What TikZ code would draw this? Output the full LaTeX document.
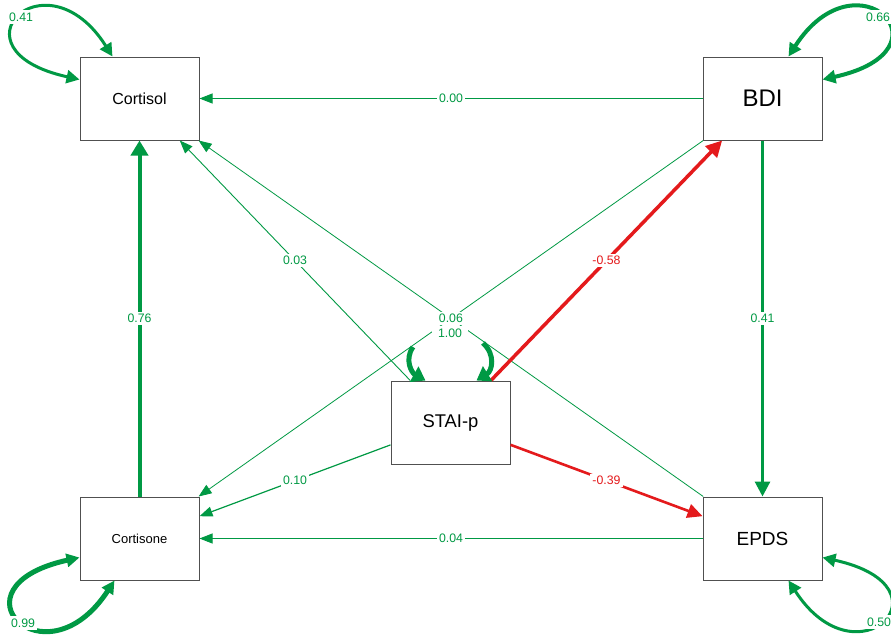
\documentclass[tikz,border=0pt]{standalone}
\usepackage{fontspec}
\setmainfont{Liberation Sans}
\usetikzlibrary{arrows.meta,calc}
\definecolor{pg}{RGB}{0,153,68}
\definecolor{nr}{RGB}{228,26,28}
\definecolor{bx}{RGB}{80,80,80}
\begin{document}
\begin{tikzpicture}[x=1pt,y=-1pt,
  var/.style={draw=bx, line width=1pt, minimum width=119pt, minimum height=83pt, inner sep=0pt},
  lbl/.style={fill=white, inner sep=2.5pt, font=\fontsize{12.3}{13}\selectfont, text=pg},
  rlbl/.style={lbl, text=nr},
  thinE/.style={pg, line width=0.9pt, -{Triangle[length=13pt,width=10pt]}},
  loopE/.style={pg, {Triangle[length=13pt,width=13pt]}-{Triangle[length=13pt,width=13pt]}},
  stubE/.style={pg, line width=5pt, -{Triangle[length=13pt,width=17pt]}}
]
\useasboundingbox (0,0) rectangle (891,635);
\fill[white] (0,0) rectangle (891,635);

% nodes
\node[var, font=\fontsize{16}{18}\selectfont] (Cortisol) at (139.5,98.5) {Cortisol};
\node[var, font=\fontsize{24}{26}\selectfont] (BDI) at (762.5,98.5) {BDI};
\node[var, font=\fontsize{13}{15}\selectfont] (Cortisone) at (139.5,538.5) {Cortisone};
\node[var, font=\fontsize{19}{21}\selectfont] (EPDS) at (762.5,538.5) {EPDS};
\node[var, font=\fontsize{18.4}{20}\selectfont] (STAI) at (450.5,422.5) {STAI-p};

% edges
\draw[thinE, line width=0.8pt] (EPDS) -- (Cortisol);
\draw[thinE, line width=0.8pt] (BDI) -- (Cortisone);
\draw[thinE] (BDI) -- (Cortisol);
\draw[thinE] (EPDS) -- (Cortisone);
\draw[thinE] (STAI) -- (Cortisol);
\draw[thinE, line width=1.2pt] (STAI) -- (Cortisone);
\draw[pg, line width=4pt, -{Triangle[length=15pt,width=17pt]}] (Cortisone) -- (Cortisol);
\draw[pg, line width=3pt, -{Triangle[length=15pt,width=15pt]}] (BDI) -- (EPDS);
\draw[nr, line width=3.5pt, -{Triangle[length=16pt,width=16pt]}] (STAI) -- (BDI);
\draw[nr, line width=2.6pt, -{Triangle[length=15pt,width=14pt]}] (STAI) -- (EPDS);

% self loops
\draw[loopE, line width=3pt] ($(Cortisol.north west)+(0,23)$) .. controls (-55,50) and (45,-50) .. ($(Cortisol.north west)+(33,0)$);
\draw[loopE, line width=4pt] ($(BDI.north east)+(0,23)$) .. controls (957,50) and (857,-50) .. ($(BDI.north east)+(-34,0)$);
\draw[loopE, line width=5pt] ($(Cortisone.south west)+(0,-23)$) .. controls (-55,587) and (45,687) .. ($(Cortisone.south west)+(35,0)$);
\draw[loopE, line width=3pt] ($(EPDS.south east)+(0,-23)$) .. controls (957,587) and (857,687) .. ($(EPDS.south east)+(-34,0)$);

% STAI-p loop (visible parts)
\draw[stubE] (413,347) .. controls (404,360) and (412,373) .. ($(STAI.north west)+(35,0)$);
\draw[stubE] (483,343) .. controls (496,355) and (492,371) .. ($(STAI.north west)+(86,0)$);

% labels
\path (BDI) -- node[lbl] {0.00} (Cortisol);
\path (EPDS) -- node[lbl] {0.04} (Cortisone);
\path (Cortisone) -- node[lbl] {0.76} (Cortisol);
\path (BDI) -- node[lbl] {0.41} (EPDS);
\path (STAI) -- node[lbl] {0.03} (Cortisol);
\path (STAI) -- node[lbl] {0.10} (Cortisone);
\path (STAI) -- node[rlbl] {-0.58} (BDI);
\path (STAI) -- node[rlbl] {-0.39} (EPDS);
\path (EPDS) -- node[lbl, inner xsep=5pt] (l06) {0.06} (Cortisol);
\node[lbl, inner xsep=6pt] (l100) at (450,333) {1.00};
\node[lbl] (l41) at (21,17) {0.41};
\node[lbl] (l66) at (878,17) {0.66};
\node[lbl] (l99) at (23,623) {0.99};
\node[lbl] (l50) at (879,622) {0.50};
\end{tikzpicture}
\end{document}
